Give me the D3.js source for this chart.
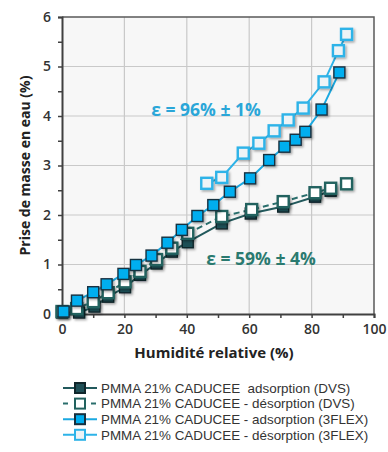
<!DOCTYPE html>
<html>
<head>
<meta charset="utf-8">
<script src="https://cdn.jsdelivr.net/npm/d3@7"></script>
<style>
  html, body { margin: 0; padding: 0; background: #ffffff; }
  svg { display: block; font-family: "Open Sans", "DejaVu Sans", sans-serif; }
  text { white-space: pre; }
</style>
</head>
<body>
<svg id="chart" width="388" height="452"></svg>
<script>
// Water uptake isotherms of PMMA 21% CADUCEE (DVS and 3FLEX)
const dvsAdsX = [0, 5.5, 10.4, 14.8, 20.2, 25, 30.3, 35.2, 40.3, 51.2, 60.5, 70.9, 81.1, 86.1];
const dvsAdsY = [0.03, 0.03, 0.15, 0.35, 0.54, 0.79, 1.02, 1.26, 1.45, 1.83, 2.03, 2.17, 2.37, 2.49];

const dvsDesX = [0, 4.7, 10, 14.8, 20.2, 25, 30.3, 35.2, 40.3, 51.2, 60.8, 70.9, 81.1, 86.1, 91.2];
const dvsDesY = [0.05, 0.11, 0.25, 0.43, 0.65, 0.86, 1.1, 1.33, 1.63, 1.97, 2.11, 2.27, 2.45, 2.54, 2.63];

const flexAdsX = [0.5, 4.8, 10, 14.3, 19.7, 23.7, 28.7, 33.8, 38.4, 43.4, 48.5, 53.8, 60.3, 66.4, 71.3, 74.9, 78, 83.2, 88.9];
const flexAdsY = [0.05, 0.27, 0.44, 0.6, 0.81, 0.99, 1.18, 1.44, 1.7, 1.98, 2.2, 2.47, 2.74, 3.11, 3.38, 3.52, 3.68, 4.13, 4.88];

const flexDesX = [46.4, 51.2, 58.1, 63.1, 68, 72.5, 77.3, 84, 88.6, 91.2];
const flexDesY = [2.64, 2.76, 3.25, 3.45, 3.7, 3.92, 4.16, 4.69, 5.32, 5.65];

const xTicks = [0, 20, 40, 60, 80, 100];
const yTicks = [0, 1, 2, 3, 4, 5, 6];

const legendLabels = [
  "PMMA 21% CADUCEE  adsorption (DVS)",
  "PMMA 21% CADUCEE - désorption (DVS)",
  "PMMA 21% CADUCEE - adsorption (3FLEX)",
  "PMMA 21% CADUCEE - désorption (3FLEX)"
];

const series = [
  { xs: dvsAdsX, ys: dvsAdsY, line: "#22595c", fill: "#1f4f56", stroke: "#10262b", dash: null, hollow: false },
  { xs: dvsDesX, ys: dvsDesY, line: "#2a6e6c", fill: "#ffffff", stroke: "#22625f", dash: "6,4", hollow: true },
  { xs: flexAdsX, ys: flexAdsY, line: "#1ba9e1", fill: "#00aeef", stroke: "#17303f", dash: null, hollow: false },
  { xs: flexDesX, ys: flexDesY, line: "#2db3e8", fill: "#eef3f6", stroke: "#2db3e8", dash: null, hollow: true }
];

const svg = d3.select("#chart");
const m = { left: 62, top: 17, right: 14, bottom: 138 };
const W = 388, H = 452;
const x = d3.scaleLinear().domain([0, 100]).range([m.left, W - m.right]);
const y = d3.scaleLinear().domain([0, 6]).range([H - m.bottom, m.top]);

const defs = svg.append("defs");
const shadow = defs.append("filter").attr("id", "shadow")
  .attr("x", "-50%").attr("y", "-50%").attr("width", "200%").attr("height", "200%");
shadow.append("feDropShadow").attr("dx", 1.5).attr("dy", 1.5)
  .attr("stdDeviation", 1.2).attr("flood-color", "#000").attr("flood-opacity", 0.35);

// plot background
svg.append("rect")
  .attr("x", x(0)).attr("y", y(6))
  .attr("width", x(100) - x(0)).attr("height", y(0) - y(6))
  .attr("fill", "#f7f7f7");

// gridlines
svg.append("g").selectAll("line").data(xTicks.slice(1, -1)).join("line")
  .attr("x1", d => x(d)).attr("x2", d => x(d))
  .attr("y1", y(0)).attr("y2", y(6))
  .attr("stroke", "#c9c9c9").attr("stroke-width", 1.2);
svg.append("g").selectAll("line").data(yTicks.slice(1, -1)).join("line")
  .attr("x1", x(0)).attr("x2", x(100))
  .attr("y1", d => y(d)).attr("y2", d => y(d))
  .attr("stroke", "#c9c9c9").attr("stroke-width", 1.2);

// frame top / right
svg.append("path")
  .attr("d", `M${x(0)},${y(6)}H${x(100)}V${y(0)}`)
  .attr("fill", "none").attr("stroke", "#5a5a5a").attr("stroke-width", 1.5);

// axes
const xAxis = d3.axisBottom(x).tickValues(d3.range(0, 101, 10))
  .tickSize(4).tickFormat(d => xTicks.includes(d) ? d : "");
const yAxis = d3.axisLeft(y).tickValues(d3.range(0, 6.01, 0.5))
  .tickSize(4).tickFormat(d => yTicks.includes(d) ? d : "");

const gx = svg.append("g").attr("transform", `translate(0,${y(0)})`).call(xAxis);
const gy = svg.append("g").attr("transform", `translate(${x(0)},0)`).call(yAxis);
[gx, gy].forEach(g => {
  g.select(".domain").attr("stroke", "#404040").attr("stroke-width", 2);
  g.selectAll(".tick line").attr("stroke", "#404040").attr("stroke-width", 1.5);
  g.selectAll(".tick text").attr("fill", "#333").attr("font-size", 14)
    .attr("font-weight", 600).attr("font-family", "Open Sans, sans-serif");
});
gx.selectAll(".tick text").attr("dy", "0.9em").attr("y", 7);
gy.selectAll(".tick text").attr("x", -11);

// axis titles
svg.append("text")
  .attr("x", (x(0) + x(100)) / 2 - 4).attr("y", 358)
  .attr("text-anchor", "middle").attr("font-size", 15).attr("font-weight", 700)
  .attr("fill", "#222").text("Humidité relative (%)");
svg.append("text")
  .attr("transform", `translate(30,${(y(0) + y(6)) / 2}) rotate(-90)`)
  .attr("text-anchor", "middle").attr("font-size", 14).attr("font-weight", 700)
  .attr("fill", "#222").text("Prise de masse en eau (%)");

// series
const line = d3.line().x(d => x(d[0])).y(d => y(d[1]));
const S = 11;
series.forEach(s => {
  const pts = s.xs.map((v, i) => [v, s.ys[i]]);
  svg.append("path").datum(pts).attr("d", line)
    .attr("fill", "none").attr("stroke", s.line).attr("stroke-width", 2)
    .attr("stroke-dasharray", s.dash);
});
series.forEach(s => {
  const pts = s.xs.map((v, i) => [v, s.ys[i]]);
  svg.append("g").attr("filter", "url(#shadow)")
    .selectAll("rect").data(pts).join("rect")
    .attr("x", d => x(d[0]) - S / 2).attr("y", d => y(d[1]) - S / 2)
    .attr("width", S).attr("height", S)
    .attr("fill", s.fill).attr("stroke", s.stroke).attr("stroke-width", s.hollow ? 2.4 : 1.4);
});

// porosity annotations
svg.append("text").attr("x", 206).attr("y", 116).attr("text-anchor", "middle")
  .attr("font-size", 17.5).attr("font-weight", 700).attr("fill", "#2aa6d8")
  .text("ε = 96% ± 1%");
svg.append("text").attr("x", 261).attr("y", 265).attr("text-anchor", "middle")
  .attr("font-size", 17.5).attr("font-weight", 700).attr("fill", "#2a7a70")
  .text("ε = 59% ± 4%");

// legend
const lg = svg.append("g");
legendLabels.forEach((lab, i) => {
  const s = series[i];
  const cy = 388 + i * 15.6;
  lg.append("line").attr("x1", 63).attr("x2", 97).attr("y1", cy).attr("y2", cy)
    .attr("stroke", s.line).attr("stroke-width", 2).attr("stroke-dasharray", s.dash ? "5,9,9,5" : null);
  lg.append("rect").attr("x", 80 - 5).attr("y", cy - 5).attr("width", 10).attr("height", 10)
    .attr("fill", s.fill).attr("stroke", s.stroke).attr("stroke-width", 2);
  lg.append("text").attr("x", 101).attr("y", cy).attr("dy", "0.36em")
    .attr("font-family", "Liberation Sans, Arial, sans-serif")
    .attr("font-size", 13.4).attr("fill", "#333").text(lab);
});
</script>
</body>
</html>
